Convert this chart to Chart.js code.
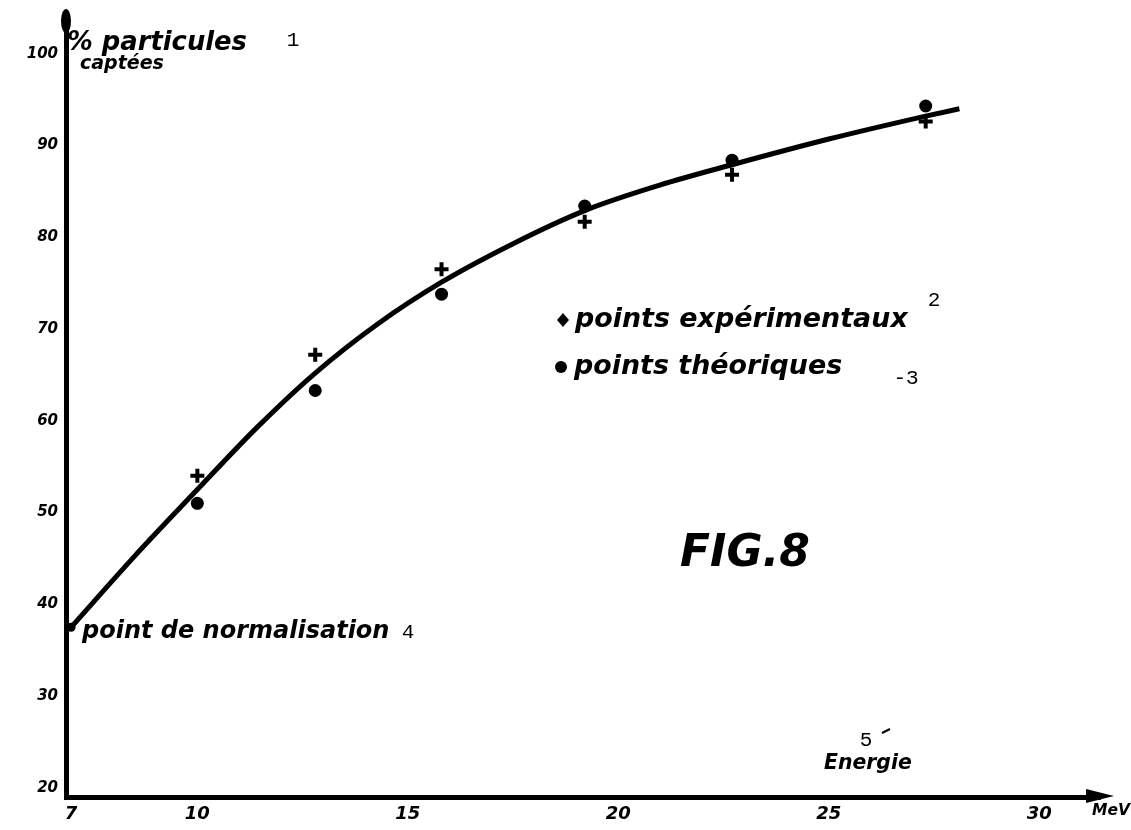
<!DOCTYPE html>
<html>
<head>
<meta charset="utf-8">
<script src="https://cdn.jsdelivr.net/npm/chart.js@4.4.1/dist/chart.umd.min.js"></script>
<style>
  html, body { margin: 0; padding: 0; background: #fff; }
  #wrap { width: 1131px; height: 830px; }
</style>
</head>
<body>
<div id="wrap"><canvas id="fig8"></canvas></div>
<script>
// energie (MeV) / % particules captees
const energiesExp = [10, 12.8, 15.8, 19.2, 22.7, 27.3];
const pctExp = [54.0, 67.2, 76.5, 81.7, 86.8, 92.6];

const energiesTheo = [10, 12.8, 15.8, 19.2, 22.7, 27.3];
const pctTheo = [51.0, 63.3, 73.8, 83.4, 88.4, 94.3];

// courbe tracee a la main (lue le long du trait)
const curveEnergies = [7, 8.5, 10, 11.4, 12.8, 14.3, 15.8, 17.5, 19.2, 21, 22.7, 25, 27.3, 28.1];
const curvePct = [37.5, 45.2, 52.5, 59.2, 65.2, 70.6, 75.1, 79.3, 82.9, 85.7, 87.9, 90.7, 93.2, 94.0];

const normEnergy = [7];
const normPct = [37.5];

const xTicks = [7, 10, 15, 20, 25, 30];
const yTicks = [20, 30, 40, 50, 60, 70, 80, 90, 100];

const toPoints = (xs, ys) => xs.map((x, i) => ({x: x, y: ys[i]}));

const HAND = '"DejaVu Sans"';
const MONO = '"Liberation Mono"';

// text squeezed/stretched to a given width
function fitText(ctx, txt, x, y, w, style) {
  ctx.font = style + ' 100px ' + HAND;
  let size = 100 * w / ctx.measureText(txt).width;
  ctx.font = style + ' ' + size.toFixed(1) + 'px ' + HAND;
  ctx.fillText(txt, x, y);
  return size;
}

const annotations = {
  id: 'annotations',
  afterDraw(chart) {
    const ctx = chart.ctx;
    const a = chart.chartArea;
    ctx.save();
    ctx.fillStyle = '#000';
    ctx.strokeStyle = '#000';

    // arrow heads
    ctx.beginPath();
    ctx.moveTo(a.right - 14, a.bottom - 8);
    ctx.lineTo(a.right + 14, a.bottom - 1);
    ctx.lineTo(a.right - 14, a.bottom + 6);
    ctx.closePath();
    ctx.fill();
    ctx.beginPath();
    ctx.ellipse(a.left, a.top + 4, 5, 12, 0, 0, Math.PI * 2);
    ctx.fill();

    ctx.textAlign = 'left';
    ctx.textBaseline = 'alphabetic';
    fitText(ctx, '% particules', 67, 50, 180, 'italic bold');
    fitText(ctx, 'captées', 80, 69, 84, 'italic bold');

    // legend
    const ds = chart.data.datasets;
    ctx.beginPath();
    ctx.moveTo(563, 313); ctx.lineTo(569, 320); ctx.lineTo(563, 327); ctx.lineTo(557, 320);
    ctx.closePath();
    ctx.fill();
    let legSize = fitText(ctx, ds[1].label, 575, 327, 333, 'italic bold');
    ctx.beginPath();
    ctx.arc(561, 367, 6, 0, Math.PI * 2);
    ctx.fill();
    ctx.font = 'italic bold ' + legSize.toFixed(1) + 'px ' + HAND;
    ctx.fillText(ds[2].label, 574, 374);

    fitText(ctx, 'point de normalisation', 82, 638, 308, 'italic bold');
    fitText(ctx, 'FIG.8', 680, 566, 130, 'italic bold');
    fitText(ctx, 'Energie', 824, 769, 88, 'italic bold');
    fitText(ctx, 'MeV', 1092, 815, 38, 'italic bold');

    // numeros ajoutes
    ctx.font = '21px ' + MONO;
    ctx.textAlign = 'center';
    ctx.textBaseline = 'middle';
    ctx.fillText('1', 293, 40);
    ctx.fillText('2', 934, 300);
    ctx.fillText('-3', 906, 378);
    ctx.fillText('4', 408, 632);
    ctx.fillText('5', 866, 740);
    ctx.lineWidth = 2;
    ctx.beginPath();
    ctx.moveTo(882, 733); ctx.lineTo(890, 729);
    ctx.stroke();
    ctx.restore();
  }
};

const dataFig8 = {
  datasets: [
    {
      label: 'courbe',
      data: toPoints(curveEnergies, curvePct),
      showLine: true,
      borderColor: '#000',
      borderWidth: 5,
      pointRadius: 0,
      cubicInterpolationMode: 'monotone',
      order: 3
    },
    {
      label: 'points expérimentaux',
      data: toPoints(energiesExp, pctExp),
      pointStyle: 'cross',
      pointRadius: 7,
      borderWidth: 4,
      borderColor: '#000',
      backgroundColor: '#000',
      order: 1
    },
    {
      label: 'points théoriques',
      data: toPoints(energiesTheo, pctTheo),
      pointStyle: 'circle',
      pointRadius: 6.5,
      borderWidth: 0,
      backgroundColor: '#000',
      order: 2
    },
    {
      label: 'point de normalisation',
      data: toPoints(normEnergy, normPct),
      pointStyle: 'circle',
      pointRadius: 4.5,
      borderWidth: 0,
      backgroundColor: '#000',
      order: 0
    }
  ]
};

const configFig8 = {
  type: 'scatter',
  data: dataFig8,
  options: {
    responsive: true,
    maintainAspectRatio: false,
    animation: false,
    layout: { padding: { top: 15, right: 31, left: 0, bottom: 0 } },
    plugins: {
      legend: { display: false },
      tooltip: { enabled: false }
    },
    scales: {
      x: {
        type: 'linear',
        min: 6.88,
        max: 31.44,
        grid: { display: false, drawTicks: false },
        border: { display: true, color: '#000', width: 5 },
        afterBuildTicks: (s) => { s.ticks = xTicks.map(v => ({value: v})); },
        afterFit: (s) => { s.height = 33; },
        ticks: {
          color: '#000',
          padding: 7,
          maxRotation: 0,
          autoSkip: false,
          font: { family: HAND, size: 18, style: 'italic', weight: 'bold' }
        }
      },
      y: {
        type: 'linear',
        min: 19,
        max: 104,
        grid: { display: false, drawTicks: false },
        border: { display: true, color: '#000', width: 5 },
        afterBuildTicks: (s) => { s.ticks = yTicks.map(v => ({value: v})); },
        afterFit: (s) => { s.width = 66; },
        ticks: {
          color: '#000',
          padding: 8,
          font: { family: HAND, size: 15, style: 'italic', weight: 'bold' }
        }
      }
    }
  },
  plugins: [annotations]
};

let fig8Graph = new Chart(document.getElementById('fig8'), configFig8);
</script>
</body>
</html>
